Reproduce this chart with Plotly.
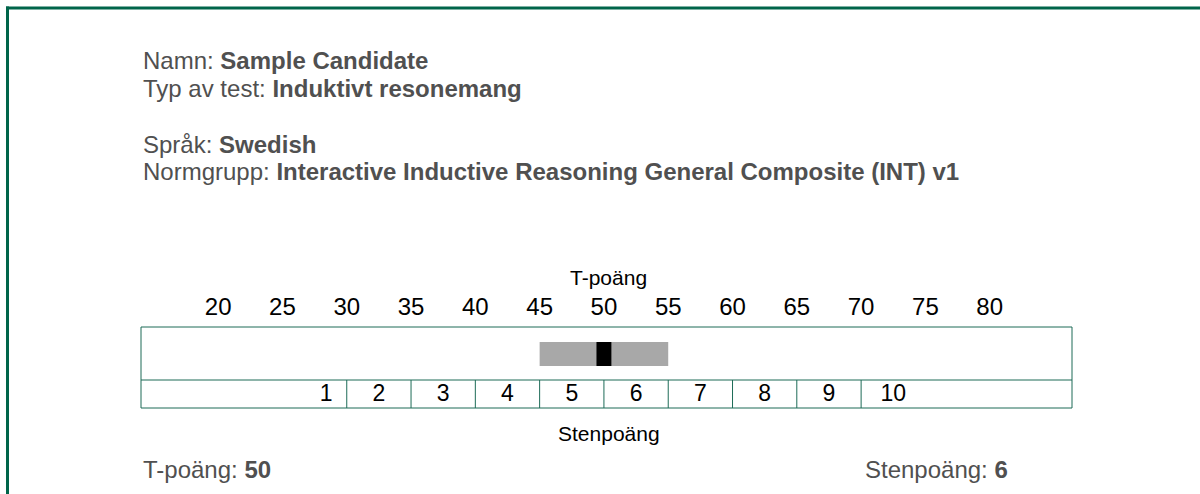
import plotly.graph_objects as go

# ---- data ----
t_ticks = [20, 25, 30, 35, 40, 45, 50, 55, 60, 65, 70, 75, 80]
sten_labels = ["1", "2", "3", "4", "5", "6", "7", "8", "9", "10"]
sten_label_pos = [28.4, 32.5, 37.5, 42.5, 47.5, 52.5, 57.5, 62.5, 67.5, 72.5]
sten_bounds = [30, 35, 40, 45, 50, 55, 60, 65, 70]
t_range = [14.0, 86.4]
band_low, band_high = 45, 55
t_score = 50
sten_score = 6
marker_halfwidth = 0.58

header_lines = [
    ("Namn: ", "Sample Candidate"),
    ("Typ av test: ", "Induktivt resonemang"),
    ("Språk: ", "Swedish"),
    ("Normgrupp: ", "Interactive Inductive Reasoning General Composite (INT) v1"),
]

# ---- geometry (pixels) ----
W, H = 1200, 494
L, R = 141, 1072
T, B = 327, 408
PW, PH = R - L, B - T

def px(xp):
    return (xp - L) / PW

def py(yp):
    return (B - yp) / PH

FONT = "Liberation Sans, Arial, sans-serif"
GREEN = "#00654a"
BOX = "#1d6b57"
TXT = "#505050"

fig = go.Figure()

# grey confidence band
fig.add_trace(go.Bar(
    x=[band_high - band_low], base=[band_low], y=[54], orientation="h",
    width=24, marker=dict(color="#a8a8a8", line=dict(width=0)),
    hoverinfo="skip", showlegend=False,
))
# black score marker
fig.add_trace(go.Bar(
    x=[2 * marker_halfwidth], base=[t_score - marker_halfwidth], y=[54], orientation="h",
    width=24, marker=dict(color="#000000", line=dict(width=0)),
    hoverinfo="skip", showlegend=False,
))
# sten labels
fig.add_trace(go.Scatter(
    x=sten_label_pos, y=[12.5] * len(sten_labels), mode="text", text=sten_labels,
    textfont=dict(family=FONT, size=23, color="#000000"),
    hoverinfo="skip", showlegend=False,
))

shapes = []
# outer frame
shapes.append(dict(type="line", xref="paper", yref="paper", x0=px(6), x1=px(1200), y0=py(8), y1=py(8),
                   line=dict(color=GREEN, width=3)))
shapes.append(dict(type="line", xref="paper", yref="paper", x0=px(7.5), x1=px(7.5), y0=py(6.5), y1=py(494),
                   line=dict(color=GREEN, width=3)))
# chart box
shapes.append(dict(type="rect", xref="paper", yref="paper", x0=0, x1=1, y0=0, y1=1,
                   line=dict(color=BOX, width=1), layer="above"))
shapes.append(dict(type="line", xref="paper", yref="y", x0=0, x1=1, y0=28, y1=28,
                   line=dict(color=BOX, width=1)))
for b in sten_bounds:
    shapes.append(dict(type="line", xref="x", yref="y", x0=b, x1=b, y0=0, y1=28,
                       line=dict(color=BOX, width=1)))

annotations = []
ys = [60.5, 88.5, 144.5, 171]
for (lab, val), yp in zip(header_lines, ys):
    annotations.append(dict(
        xref="paper", yref="paper", x=px(141), y=py(yp), xanchor="left", yanchor="middle",
        text=f"{lab}<b>{val}</b>", showarrow=False,
        font=dict(family=FONT, size=24, color=TXT),
    ))
annotations.append(dict(xref="paper", yref="paper", x=px(608), y=py(277), xanchor="center", yanchor="middle",
                        text="T-poäng", showarrow=False, font=dict(family=FONT, size=21, color="#000000")))
annotations.append(dict(xref="paper", yref="paper", x=px(609), y=py(433), xanchor="center", yanchor="middle",
                        text="Stenpoäng", showarrow=False, font=dict(family=FONT, size=21, color="#000000")))
annotations.append(dict(xref="paper", yref="paper", x=px(141), y=py(469), xanchor="left", yanchor="middle",
                        text=f"T-poäng: <b>{t_score}</b>", showarrow=False,
                        font=dict(family=FONT, size=24, color=TXT)))
annotations.append(dict(xref="paper", yref="paper", x=px(1010), y=py(469), xanchor="right", yanchor="middle",
                        text=f"Stenpoäng: <b>{sten_score}</b>", showarrow=False,
                        font=dict(family=FONT, size=24, color=TXT)))

fig.update_layout(
    width=W, height=H,
    margin=dict(l=L, r=W - R, t=T, b=H - B, pad=0),
    paper_bgcolor="white", plot_bgcolor="white",
    barmode="overlay",
    showlegend=False,
    shapes=shapes,
    annotations=annotations,
    xaxis=dict(range=t_range, side="top", tickvals=t_ticks, ticktext=[str(t) for t in t_ticks],
               showgrid=False, zeroline=False, showline=False, ticks="",
               ticklabelstandoff=6,
               tickfont=dict(family=FONT, size=24, color="#000000"), fixedrange=True),
    yaxis=dict(range=[0, PH], showgrid=False, zeroline=False, showline=False,
               showticklabels=False, ticks="", fixedrange=True),
)

fig.write_html(
    "out.html",
    config={"displayModeBar": False},
    post_script="document.body.style.margin='0';document.body.style.overflow='hidden';",
)
